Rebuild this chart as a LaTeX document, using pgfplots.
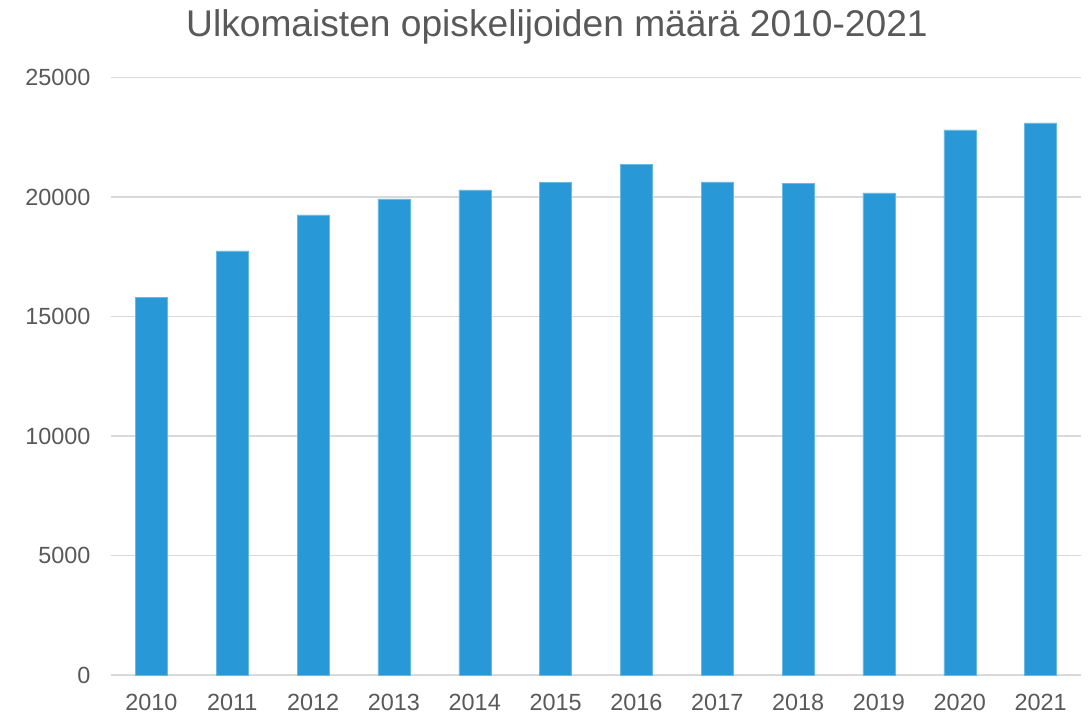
\documentclass[border=0pt]{standalone}
\usepackage{pgfplots}
\pgfplotsset{compat=1.18}
\usepackage{fontspec}
\setmainfont{Liberation Sans}
\definecolor{barblue}{RGB}{40,153,214}
\definecolor{txtgray}{RGB}{89,89,89}
\definecolor{gridgray}{RGB}{217,217,217}
\begin{document}
\begin{tikzpicture}[x=1bp,y=1bp]
\useasboundingbox (-111,-41) rectangle (978,675);
\begin{axis}[
  at={(0,0)}, anchor=south west,
  scale only axis,
  width=970bp, height=597.5bp,
  ymin=0, ymax=25000,
  xmin=-0.5, xmax=11.5,
  ytick={0,5000,...,25000},
  xtick={0,...,11},
  xticklabels={2010,2011,2012,2013,2014,2015,2016,2017,2018,2019,2020,2021},
  ymajorgrids,
  grid style={gridgray, line width=1.3bp},
  axis line style={draw=none},
  axis x line*=bottom,
  x axis line style={draw=gridgray, line width=1.3bp},
  major tick length=0pt,
  tick style={draw=none},
  scaled y ticks=false,
  /pgf/number format/assume math mode=true,
  yticklabel={\pgfmathprintnumber[fixed,1000 sep={}]{\tick}},
  ticklabel style={font=\fontsize{23.5}{28}\selectfont, text=txtgray},
  yticklabel style={xshift=-17bp},
  xticklabel style={yshift=-16bp},
  clip=false,
]
\addplot[ybar, bar width=32bp, fill=barblue, draw=barblue!70!white, line width=0.5bp]
  coordinates {(0,15803) (1,17741) (2,19247) (3,19916) (4,20293) (5,20615)
               (6,21368) (7,20628) (8,20572) (9,20167) (10,22803) (11,23096)};
\end{axis}
\node[anchor=base, text=txtgray, font=\fontsize{37.3}{43}\selectfont] at (446,638) {Ulkomaisten opiskelijoiden määrä 2010-2021};
\end{tikzpicture}
\end{document}
